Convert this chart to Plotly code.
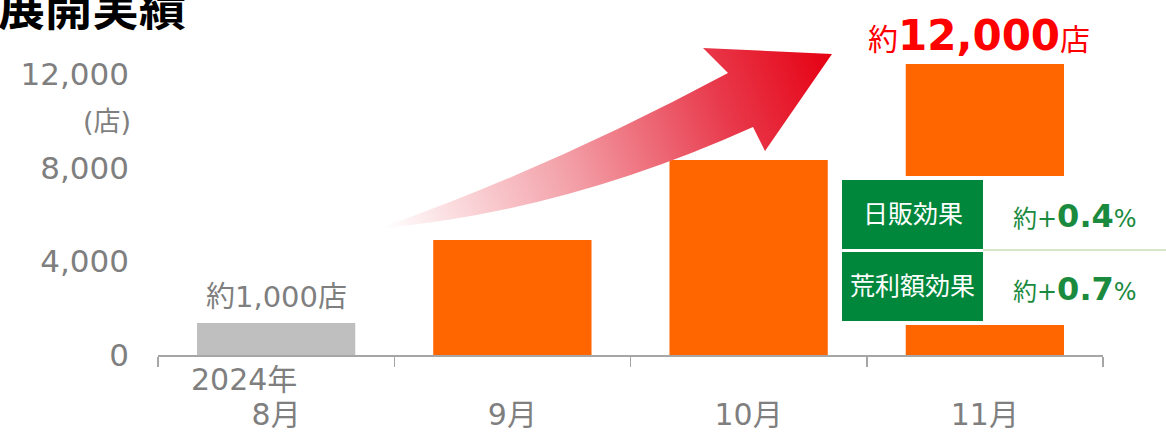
import base64
import plotly.graph_objects as go

# ---------------- data ----------------
months = ["8月", "9月", "10月", "11月"]
stores = [1370, 4920, 8340, 12450]
bar_colors = ["#BFBFBF", "#FF6600", "#FF6600", "#FF6600"]
y_ticks = [0, 4000, 8000, 12000]
y_tick_labels = ["0", "4,000", "8,000", "12,000"]
effect_names = ["日販効果", "荒利額効果"]
effect_values = ["0.4", "0.7"]
first_label = "約1,000店"
last_label_num = "12,000"
title_text = "展開実績"
unit_text = "(店)"
year_text = "2024年"

# ---------------- geometry helpers ----------------
W, H = 1166, 440
L, R, T, B = 158, 63, 51, 85
PW = W - L - R
PH = H - T - B
Y_MAX = 13005

FONT = "DejaVu Sans, Noto Sans CJK JP"
GRAY = "#7F7F7F"
GREEN = "#00873C"
TXT_GREEN = "#1A8A3E"


def px(x):
    return (x - L) / PW


def py(y):
    return (H - B - y) / PH


# gradient arrow drawn as an SVG image covering the whole figure
svg = f'''<svg xmlns="http://www.w3.org/2000/svg" width="{W}" height="{H}" viewBox="0 0 {W} {H}" preserveAspectRatio="none">
<defs><linearGradient id="g" gradientUnits="userSpaceOnUse" x1="383" y1="227" x2="832" y2="54">
<stop offset="0" stop-color="#FFFFFF"/>
<stop offset="0.4" stop-color="#F3A0A8"/>
<stop offset="0.75" stop-color="#E8394B"/>
<stop offset="1" stop-color="#E50012"/>
</linearGradient></defs>
<path d="M383,227 Q554.5,166 728,73 L703,48 L832,54 L765,151 L753,127 Q568,210.5 383,228 Z" fill="url(#g)"/>
</svg>'''
svg_uri = "data:image/svg+xml;base64," + base64.b64encode(svg.encode("utf-8")).decode("ascii")

fig = go.Figure()
fig.add_trace(go.Bar(
    x=months, y=stores,
    marker=dict(color=bar_colors, line=dict(width=0)),
    hoverinfo="skip",
))

shapes = [
    # white cut-out across the 11月 bar
    dict(type="rect", xref="paper", yref="paper", x0=px(898), x1=px(1070), y0=py(325), y1=py(176),
         fillcolor="white", line=dict(width=0), layer="above"),
    dict(type="rect", xref="paper", yref="paper", x0=px(842), x1=px(983), y0=py(249), y1=py(180),
         fillcolor=GREEN, line=dict(width=0), layer="above"),
    dict(type="rect", xref="paper", yref="paper", x0=px(842), x1=px(983), y0=py(321), y1=py(252),
         fillcolor=GREEN, line=dict(width=0), layer="above"),
    dict(type="line", xref="paper", yref="paper", x0=px(983), x1=px(1166), y0=py(250), y1=py(250),
         line=dict(color="#A9D18E", width=1), layer="above"),
]

annotations = [
    dict(text=f"<b>{title_text}</b>", xref="paper", yref="paper", x=px(-4), y=py(5),
         xanchor="left", yanchor="middle", showarrow=False,
         font=dict(family="Noto Sans CJK JP", size=47, color="black")),
    dict(text=unit_text, xref="paper", yref="paper", x=px(107), y=py(121),
         xanchor="center", yanchor="middle", showarrow=False,
         font=dict(family=FONT, size=27, color=GRAY)),
    dict(text=year_text, xref="paper", yref="paper", x=px(299), y=py(379),
         xanchor="right", yanchor="middle", showarrow=False,
         font=dict(family=FONT, size=30, color=GRAY)),
    dict(text=first_label, xref="x", yref="paper", x=months[0], y=py(297),
         xanchor="center", yanchor="middle", showarrow=False,
         font=dict(family=FONT, size=29, color=GRAY)),
    dict(text=f"約<span style='font-size:42px'><b>{last_label_num}</b></span>店",
         xref="paper", yref="paper", x=px(979), y=py(36),
         xanchor="center", yanchor="middle", showarrow=False,
         font=dict(family=FONT, size=30, color="#FF0000")),
]

for name, val, cy in zip(effect_names, effect_values, [214.5, 286.5]):
    annotations.append(dict(text=name, xref="paper", yref="paper", x=px(912.5), y=py(cy),
                            xanchor="center", yanchor="middle", showarrow=False,
                            font=dict(family=FONT, size=25, color="white")))
    annotations.append(dict(text=f"約+<span style='font-size:32px'><b>{val}</b></span>%",
                            xref="paper", yref="paper", x=px(1075), y=py(cy + 2),
                            xanchor="center", yanchor="middle", showarrow=False,
                            font=dict(family=FONT, size=24, color=TXT_GREEN)))

fig.update_layout(
    template="none",
    width=W, height=H,
    margin=dict(l=L, r=R, t=T, b=B, autoexpand=False),
    paper_bgcolor="white", plot_bgcolor="white",
    showlegend=False,
    bargap=0.33,
    font=dict(family=FONT, color=GRAY),
    xaxis=dict(
        type="category", range=[-0.5, 3.5], automargin=False,
        showline=True, linecolor="#A6A6A6", linewidth=1.5,
        ticks="outside", tickson="boundaries", ticklen=10, tickcolor="#A6A6A6", tickwidth=1.5,
        tickfont=dict(family=FONT, size=30, color=GRAY),
        ticklabelstandoff=32,
        showgrid=False, zeroline=False,
    ),
    yaxis=dict(
        range=[0, Y_MAX], automargin=False,
        tickvals=y_ticks, ticktext=y_tick_labels,
        tickfont=dict(family=FONT, size=31, color=GRAY),
        ticks="", showline=False, showgrid=False, zeroline=False,
        ticklabelstandoff=28,
    ),
    shapes=shapes,
    annotations=annotations,
    images=[dict(source=svg_uri, xref="paper", yref="paper", x=px(0), y=py(0),
                 sizex=W / PW, sizey=H / PH, xanchor="left", yanchor="top",
                 sizing="stretch", layer="above")],
)

fig.write_html(
    "out.html",
    config={"displayModeBar": False, "staticPlot": True},
    post_script="document.body.style.margin='0';document.body.style.overflow='hidden';",
)
